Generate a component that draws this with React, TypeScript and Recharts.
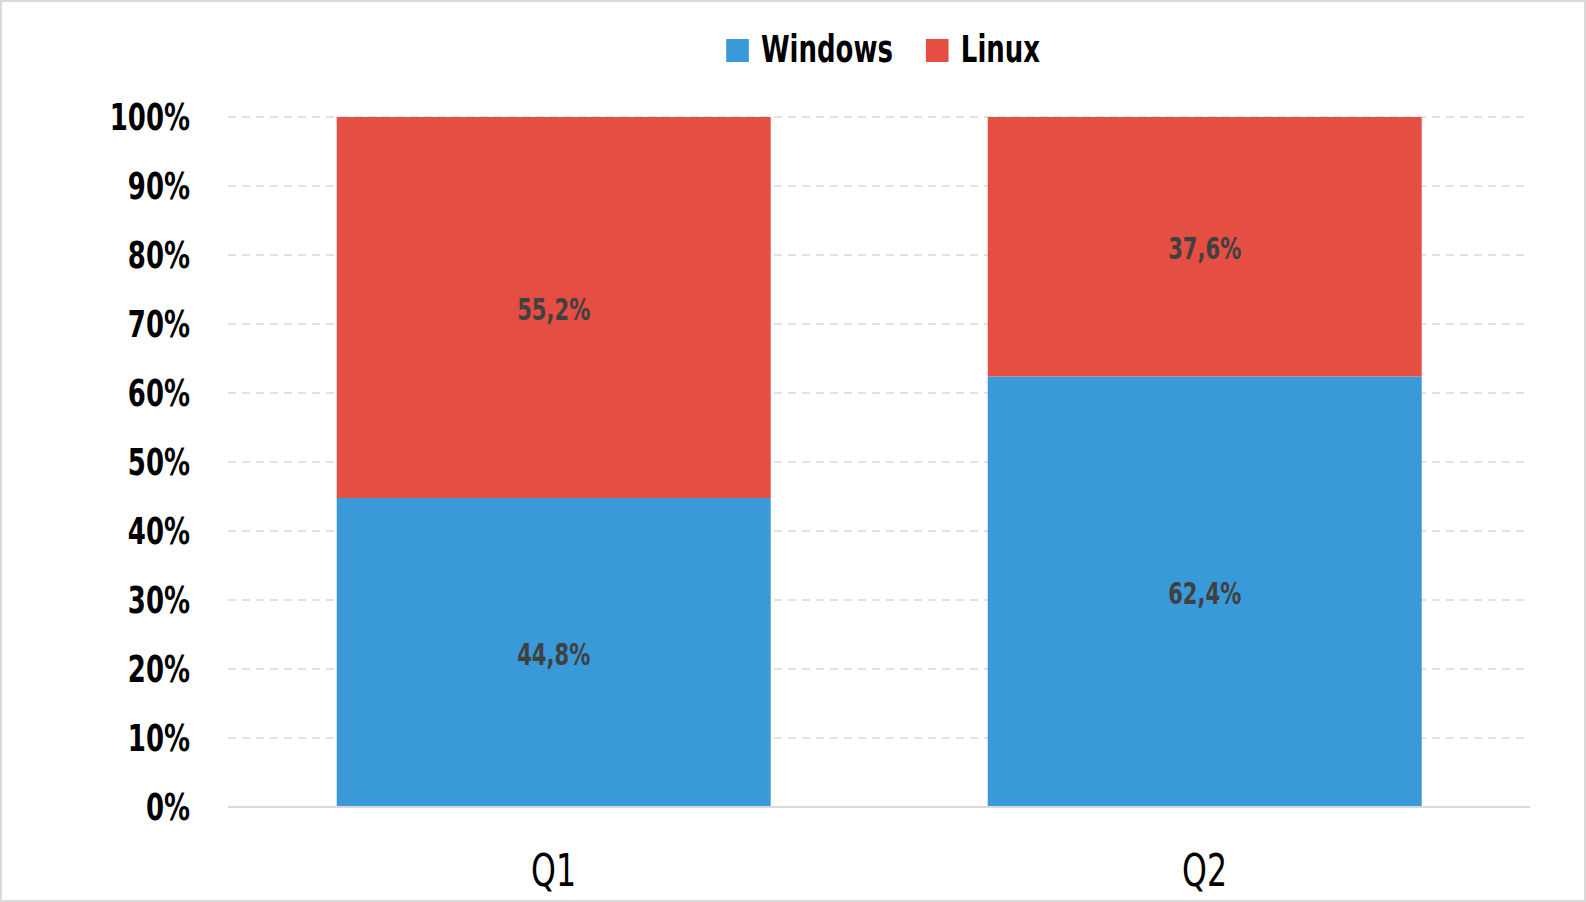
import React from 'react';
import { BarChart, Bar, XAxis, YAxis, CartesianGrid, Legend, LabelList } from 'recharts';

const quarters = ['Q1', 'Q2'];
const windowsShare = [44.8, 62.4];
const linuxShare = [55.2, 37.6];
const yTicks = [0, 10, 20, 30, 40, 50, 60, 70, 80, 90, 100];
const seriesOrder = ['Windows', 'Linux'];

const data = quarters.map((q, i) => ({ quarter: q, windows: windowsShare[i], linux: linuxShare[i] }));

const FONT = "'DejaVu Sans Condensed', 'Liberation Sans Narrow', sans-serif";
const BLUE = '#3a99d8';
const RED = '#e44e43';
const GRID = '#d9d9d9';
const SQUEEZE = 0.78; // the original font is narrower than anything installed

const pct = (v: number) => `${v.toFixed(1).replace('.', ',')}%`;

// svg text squeezed horizontally around its anchor point
function Squeezed({ x, y, children, ...rest }: any) {
  return (
    <text transform={`translate(${x},${y}) scale(${SQUEEZE},1)`} fontFamily={FONT} {...rest}>
      {children}
    </text>
  );
}

const YTick = ({ x, y, payload }: any) => (
  <Squeezed x={x + 2} y={y} dy="0.355em" textAnchor="end" fontSize={37} fontWeight={700} fill="#000">
    {`${payload.value}%`}
  </Squeezed>
);

const XTick = ({ x, y, payload }: any) => (
  <Squeezed x={x} y={y} dy="0.71em" textAnchor="middle" fontSize={45} fill="#000">
    {payload.value}
  </Squeezed>
);

const SegmentLabel = ({ x, y, width, height, value }: any) => (
  <Squeezed
    x={Number(x) + Number(width) / 2}
    y={Number(y) + Number(height) / 2}
    dy="0.42em"
    textAnchor="middle"
    fontSize={30}
    fontWeight={700}
    fill="#404040"
  >
    {pct(Number(value))}
  </Squeezed>
);

function renderLegend(props: any) {
  const items = [...(props.payload || [])].sort(
    (a: any, b: any) => seriesOrder.indexOf(a.value) - seriesOrder.indexOf(b.value)
  );
  const k = 1 / SQUEEZE;
  return (
    <div
      style={{
        display: 'flex',
        justifyContent: 'center',
        alignItems: 'center',
        fontFamily: FONT,
        transform: `scaleX(${SQUEEZE})`,
        transformOrigin: 'center',
      }}
    >
      {items.map((it: any, i: number) => (
        <div key={it.value} style={{ display: 'flex', alignItems: 'center', marginLeft: i ? 33 * k : 0 }}>
          <span style={{ width: 23 * k, height: 23, background: it.color, display: 'inline-block', marginRight: 12 * k }} />
          <span style={{ fontSize: 37, fontWeight: 700, color: '#000', lineHeight: '40px' }}>{it.value}</span>
        </div>
      ))}
    </div>
  );
}

export default function App() {
  return (
    <div
      style={{
        position: 'absolute',
        left: 0,
        top: 0,
        width: 1586,
        height: 902,
        boxSizing: 'border-box',
        border: `2px solid ${GRID}`,
        background: '#fff',
      }}
    >
      <div style={{ position: 'absolute', left: -2, top: -2 }}>
        <BarChart
          width={1586}
          height={902}
          data={data}
          margin={{ top: 117, right: 56, bottom: 35, left: 0 }}
          barCategoryGap="16.7%"
        >
          <CartesianGrid vertical={false} stroke={GRID} strokeWidth={1.5} strokeDasharray="8 6" />
          <XAxis
            dataKey="quarter"
            height={60}
            axisLine={{ stroke: GRID, strokeWidth: 2 }}
            tickLine={false}
            tickSize={0}
            tickMargin={47}
            tick={<XTick />}
          />
          <YAxis
            width={228}
            domain={[0, 100]}
            ticks={yTicks}
            interval={0}
            axisLine={false}
            tickLine={false}
            tickSize={0}
            tickMargin={40}
            tick={<YTick />}
          />
          <Legend
            verticalAlign="middle"
            align="center"
            content={renderLegend}
            wrapperStyle={{ top: 30, left: 90, width: 1586 }}
          />
          <Bar dataKey="windows" name="Windows" stackId="a" fill={BLUE} isAnimationActive={false}>
            <LabelList dataKey="windows" content={<SegmentLabel />} />
          </Bar>
          <Bar dataKey="linux" name="Linux" stackId="a" fill={RED} isAnimationActive={false}>
            <LabelList dataKey="linux" content={<SegmentLabel />} />
          </Bar>
        </BarChart>
      </div>
    </div>
  );
}
